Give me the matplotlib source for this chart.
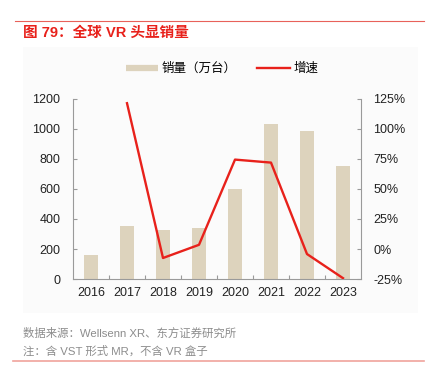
import matplotlib
matplotlib.use("Agg")
import matplotlib.pyplot as plt
from matplotlib.lines import Line2D
from matplotlib.patches import Rectangle
from matplotlib.ticker import FuncFormatter

plt.rcParams['font.family'] = ['Liberation Sans', 'Noto Sans CJK SC']

# 全球 VR 头显销量
years = ["2016", "2017", "2018", "2019", "2020", "2021", "2022", "2023"]
sales = [160, 355, 329, 342, 600, 1031, 989, 753]           # 万台
growth = [None, 121.5, -7.5, 3.5, 74.5, 72.0, -4.2, -24.3]  # %

bar_color = "#DDD3BD"
line_color = "#E8211B"
axis_color = "#9A9A9A"

W, H = 428, 366
fig = plt.figure(figsize=(W / 100, H / 100), dpi=100)

# faint panel behind the chart
fig.patches.append(Rectangle((23 / W, 1 - 313 / H), 395 / W, 266 / H,
                             transform=fig.transFigure, facecolor="#FBFBFB",
                             edgecolor="none", zorder=-5))

ax = fig.add_axes([73 / W, 1 - 279 / H, 288 / W, 180 / H])
ax.patch.set_alpha(0)
x = list(range(len(years)))
ax.bar(x, sales, width=0.4, color=bar_color, zorder=2)
ax.set_xlim(-0.5, len(years) - 0.5)
ax.set_ylim(0, 1200)
ax.set_yticks(range(0, 1201, 200))

# category ticks between bars, labels centered
ax.set_xticks([i + 0.5 for i in x[:-1]])
ax.set_xticklabels([])
ax.set_xticks(x, minor=True)
ax.set_xticklabels(years, minor=True)
ax.tick_params(axis="x", which="major", direction="in", length=3, color=axis_color)
ax.tick_params(axis="x", which="minor", length=0, pad=6, labelsize=9, labelcolor="#222222")
ax.tick_params(axis="y", direction="in", length=3, color=axis_color, pad=9,
               labelsize=9, labelcolor="#222222")

for s in ["top", "right"]:
    ax.spines[s].set_visible(False)
for s in ["left", "bottom"]:
    ax.spines[s].set_color(axis_color)
    ax.spines[s].set_linewidth(0.8)

ax2 = ax.twinx()
gx = [i for i, g in zip(x, growth) if g is not None]
gy = [g for g in growth if g is not None]
ax2.plot(gx, gy, color=line_color, linewidth=1.7, zorder=3)
ax2.set_ylim(-25, 125)
ax2.set_yticks(range(-25, 126, 25))
ax2.yaxis.set_major_formatter(FuncFormatter(lambda v, p: f"{v:.0f}%"))
ax2.tick_params(axis="y", direction="in", length=3, color=axis_color, pad=9,
                labelsize=9, labelcolor="#222222")
for s in ["top", "left", "bottom"]:
    ax2.spines[s].set_visible(False)
ax2.spines["right"].set_color(axis_color)
ax2.spines["right"].set_linewidth(0.8)

handles = [Line2D([], [], color=bar_color, linewidth=4.5, solid_capstyle="butt"),
           Line2D([], [], color=line_color, linewidth=1.7)]
fig.legend(handles, ["销量（万台）", "增速"], loc="center", ncol=2,
           bbox_to_anchor=(222 / W, 1 - 69 / H), frameon=False, fontsize=9,
           handlelength=2.6, handletextpad=0.3, columnspacing=1.6)

# title and frame lines
fig.add_artist(Line2D([15 / W, 424 / W], [1 - 21 / H, 1 - 21 / H], color="#E8615A", linewidth=0.8))
fig.text(23 / W, 1 - 33 / H, "图 79：全球 VR 头显销量", color="#E8211B", fontsize=10.5,
         fontweight="bold", va="center", ha="left")

fig.text(23 / W, 1 - 333 / H, "数据来源：Wellsenn XR、东方证券研究所", color="#8C8C8C",
         fontsize=8.2, va="center", ha="left")
fig.text(23 / W, 1 - 351 / H, "注：含 VST 形式 MR，不含 VR 盒子", color="#8C8C8C",
         fontsize=8.2, va="center", ha="left")
fig.add_artist(Line2D([13 / W, 424 / W], [1 - 361 / H, 1 - 361 / H], color="#F0A39C", linewidth=1.2))

fig.savefig("out.png", dpi=100)
